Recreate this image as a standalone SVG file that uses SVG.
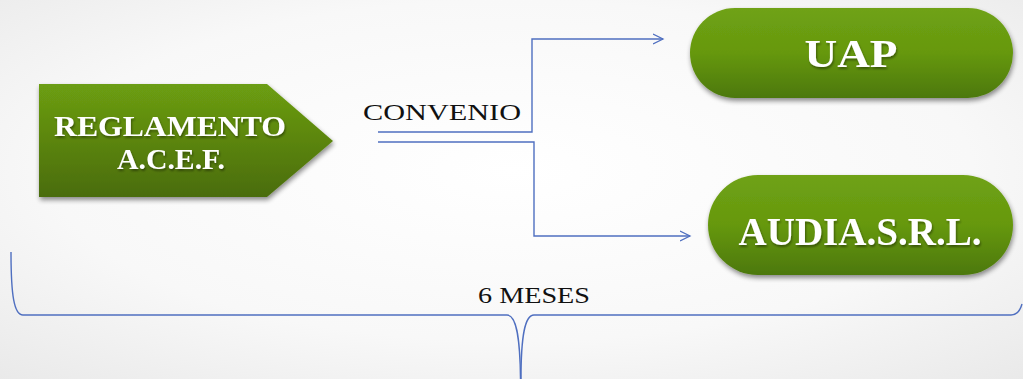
<svg xmlns="http://www.w3.org/2000/svg" width="1023" height="379" viewBox="0 0 1023 379">
  <defs>
    <radialGradient id="bg" cx="0.5" cy="0.45" r="0.75">
      <stop offset="0" stop-color="#ffffff"/>
      <stop offset="0.6" stop-color="#f8f8f8"/>
      <stop offset="1" stop-color="#e9e9e9"/>
    </radialGradient>
    <linearGradient id="green" x1="0" y1="0" x2="0" y2="1">
      <stop offset="0" stop-color="#6fa214"/>
      <stop offset="0.5" stop-color="#66980f"/>
      <stop offset="1" stop-color="#4c780c"/>
    </linearGradient>
    <linearGradient id="greenArrow" x1="0" y1="0" x2="0" y2="1">
      <stop offset="0" stop-color="#6c9e12"/>
      <stop offset="1" stop-color="#4a6c0d"/>
    </linearGradient>
    <filter id="shadow" x="-10%" y="-20%" width="125%" height="150%">
      <feGaussianBlur in="SourceAlpha" stdDeviation="2.5"/>
      <feOffset dx="1" dy="3" result="b"/>
      <feComponentTransfer><feFuncA type="linear" slope="0.45"/></feComponentTransfer>
      <feMerge><feMergeNode/><feMergeNode in="SourceGraphic"/></feMerge>
    </filter>
    <filter id="tshadow" x="-5%" y="-20%" width="110%" height="150%">
      <feGaussianBlur in="SourceAlpha" stdDeviation="1"/>
      <feOffset dx="1" dy="1.5"/>
      <feComponentTransfer><feFuncA type="linear" slope="0.4"/></feComponentTransfer>
      <feMerge><feMergeNode/><feMergeNode in="SourceGraphic"/></feMerge>
    </filter>
    <marker id="arrow" markerWidth="12" markerHeight="12" refX="10" refY="5" orient="auto" markerUnits="userSpaceOnUse" viewBox="0 0 12 10">
      <path d="M0,0 L10,5 L0,10" fill="none" stroke="#4f6fc0" stroke-width="1.3"/>
    </marker>
    <style>
      .wt { font-family: "Liberation Serif", "Times New Roman", serif; font-weight: bold; fill: #ffffff; text-anchor: middle; }
      .bt { font-family: "Liberation Serif", "Times New Roman", serif; fill: #111111; }
      .conn { fill: none; stroke: #4f6fc0; stroke-width: 1.4; }
    </style>
  </defs>

  <rect x="0" y="0" width="1023" height="379" fill="url(#bg)"/>

  <g id="reglamento">
    <polygon points="39,84 267,84 333,141 267,197 39,197" fill="url(#greenArrow)" filter="url(#shadow)"/>
    <g filter="url(#tshadow)">
      <text class="wt" x="170" y="136" font-size="29" textLength="232" lengthAdjust="spacingAndGlyphs">REGLAMENTO</text>
      <text class="wt" x="171" y="169" font-size="29" textLength="108" lengthAdjust="spacingAndGlyphs">A.C.E.F.</text>
    </g>
  </g>

  <g id="uap">
    <rect x="690" y="8" width="323" height="90" rx="45" ry="45" fill="url(#green)" filter="url(#shadow)"/>
    <text class="wt" x="851" y="67" font-size="41" textLength="93" lengthAdjust="spacingAndGlyphs" filter="url(#tshadow)">UAP</text>
  </g>

  <g id="audia">
    <rect x="708" y="175" width="305" height="100" rx="50" ry="50" fill="url(#green)" filter="url(#shadow)"/>
    <text class="wt" x="860" y="245" font-size="41" textLength="243" lengthAdjust="spacingAndGlyphs" filter="url(#tshadow)">AUDIA.S.R.L.</text>
  </g>

  <g id="connectors">
    <path class="conn" d="M378,132 L532,132 L532,39 L663,39" marker-end="url(#arrow)"/>
    <path class="conn" d="M378,142 L534,142 L534,236 L690,236" marker-end="url(#arrow)"/>
    <path class="conn" d="M11,252 C11,295 14,315 23,315 L507,315 C516,315 520,335 520.5,379"/>
    <path class="conn" d="M521,379 C521,335 525,315 534,315 L1011,315 C1017,315 1020,311 1022,304"/>
  </g>

  <g id="labels">
    <text class="bt" x="363" y="120" font-size="24" textLength="158" lengthAdjust="spacingAndGlyphs">CONVENIO</text>
    <text class="bt" x="478" y="303" font-size="24" textLength="112" lengthAdjust="spacingAndGlyphs">6 MESES</text>
  </g>
</svg>
